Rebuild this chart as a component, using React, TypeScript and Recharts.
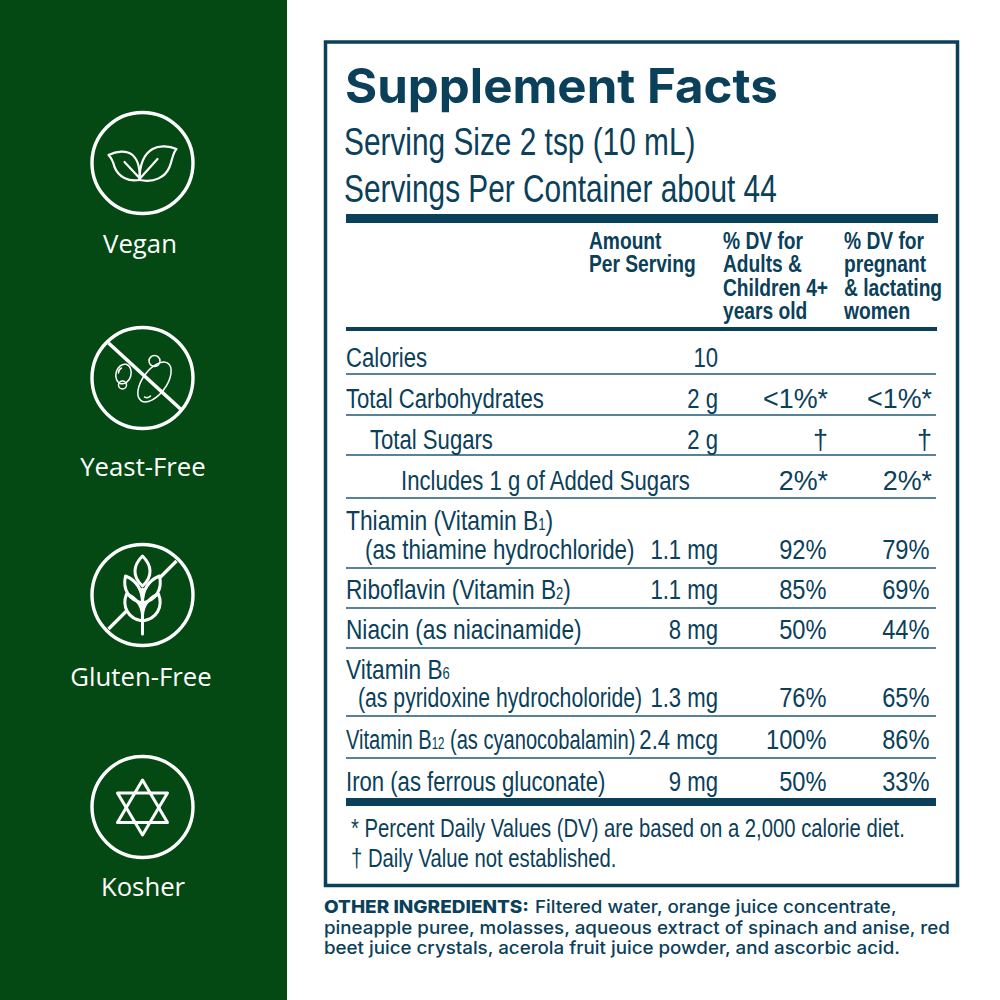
import { ReferenceArea, ReferenceLine, Scatter, ScatterChart, XAxis, YAxis } from "recharts";

const SIDEBAR = "#044813";
const INK = "#0a405a";
const RULE = "#215a74";
const NARROW = "'Liberation Sans', sans-serif";

// left column
const badgeLabels = ["Vegan", "Yeast-Free", "Gluten-Free", "Kosher"];
const badgeKinds = ["leaf", "yeast", "wheat", "star"];
const badgeCentersY = [163, 378, 595, 807];
const badgeLabelX = [140, 143, 141, 143];
const badgeLabelY = [253, 476, 686, 896];

// header
const servingLines = ["Serving Size 2 tsp (10 mL)", "Servings Per Container about 44"];
const servingY = [155, 201.5];
const amountHeader = ["Amount", "Per Serving"];
const adultHeader = ["% DV for", "Adults &", "Children 4+", "years old"];
const pregnantHeader = ["% DV for", "pregnant", "& lactating", "women"];
const headerY = [249, 272, 296, 319];

// table
const nutrientLines = [
    "Calories",
    "Total Carbohydrates",
    "Total Sugars",
    "Includes 1 g of Added Sugars",
    "Thiamin (Vitamin B~1~)",
    "(as thiamine hydrochloride)",
    "Riboflavin (Vitamin B~2~)",
    "Niacin (as niacinamide)",
    "Vitamin B~6~",
    "(as pyridoxine hydrocholoride)",
    "Vitamin B~12~ (as cyanocobalamin)",
    "Iron (as ferrous gluconate)",
];
const nutrientX = [346, 346, 370, 401, 346, 365, 346, 346, 346, 358, 346, 346];
const nutrientY = [367, 408, 449, 490, 530, 559, 599, 639, 679, 707, 749, 791];

const amounts = ["10", "2 g", "2 g", "1.1 mg", "1.1 mg", "8 mg", "1.3 mg", "2.4 mcg", "9 mg"];
const amountY = [367, 408, 449, 559, 599, 639, 707, 749, 791];
const adultDv = ["<1%*", "†", "2%*", "92%", "85%", "50%", "76%", "100%", "50%"];
const pregnantDv = ["<1%*", "†", "2%*", "79%", "69%", "44%", "65%", "86%", "33%"];
const dvY = [408, 449, 490, 559, 599, 639, 707, 749, 791];

const thinRulesY = [374, 415, 455, 498, 568, 608, 648, 716, 758];
const footnotes = ["* Percent Daily Values (DV) are based on a 2,000 calorie diet.", "† Daily Value not established."];
const footnoteY = [837, 867];

const ingredientLines = [
    "Filtered water, orange juice concentrate,",
    "pineapple puree, molasses, aqueous extract of spinach and anise, red",
    "beet juice crystals, acerola fruit juice powder, and ascorbic acid.",
];
const ingredientY = [913, 933.5, 954];

const toPoints = (texts: string[], xs: number[] | number, ys: number[]) =>
    texts.map((text, i) => ({ x: Array.isArray(xs) ? xs[i] : xs, y: ys[i], text }));

// the label font is condensed, nothing installed is, so the glyphs get squeezed
const lineSqueeze = [0.79, 0.79, 0.79, 0.79, 0.815, 0.798, 0.81, 0.81, 0.81, 0.758, 0.718, 0.79];

const textShape =
    ({ squeeze = 1, ...style }: Record<string, any>) =>
    ({ cx, cy, payload }: any) => {
        const parts = String(payload.text).split("~");
        return (
            <text transform={`translate(${cx} ${cy}) scale(${payload.squeeze ?? squeeze} 1)`} {...style}>
                {parts.map((part, i) =>
                    i % 2 === 1 ? (
                        <tspan key={i} fontSize={16}>
                            {part}
                        </tspan>
                    ) : (
                        <tspan key={i}>{part}</tspan>
                    ),
                )}
            </text>
        );
    };

const BadgeIcon = ({ cx, cy, payload }: any) => {
    const kind = payload.kind;
    return (
        <g transform={`translate(${cx} ${cy})`} fill="none" stroke="#fff" strokeLinejoin="round" strokeLinecap="round">
            <circle r={50.5} strokeWidth={3.4} />
            {kind === "leaf" && (
                <g strokeWidth={2.2}>
                    <path d="M-34,-8 C-26,-12 -16,-13 -10,-8 C-4,-3 -2,8 -3,17 C-14,19 -24,14 -28,4 C-29,0 -31,-5 -34,-8 Z" />
                    <path d="M-3,17 C-3,5 0,-8 10,-14 C17,-18 27,-17 34,-14 C30,-10 30,-3 27,4 C23,14 12,20 -3,17 Z" />
                    <path d="M-18,-1 L-4,14 M15,-4 L-3,16" />
                </g>
            )}
            {kind === "yeast" && (
                <g strokeWidth={1.5}>
                    <path d="M-34,-35 L38,31" strokeWidth={3.6} strokeLinecap="butt" />
                    <ellipse cx={12} cy={4} rx={12} ry={23} transform="rotate(36 12 4)" />
                    <circle cx={12} cy={-17} r={5.5} />
                    <ellipse cx={-19} cy={-4} rx={7.5} ry={10} transform="rotate(15 -19 -4)" />
                    <circle cx={-20} cy={7} r={4} />
                    <path d="M-21,-10 C-23,-9 -24,-7 -24,-5 M2,19 C4,20 6,20 8,18" />
                </g>
            )}
            {kind === "wheat" && (
                <g strokeWidth={3}>
                    <path d="M-34,34 L-16,16 M17,-17 L34,-34" strokeWidth={3.2} strokeLinecap="butt" />
                    <path d="M0,-6 L0,39" />
                    <path d="M0,-39 C-9,-30 -11,-19 0,-9 C11,-19 9,-30 0,-39 Z" />
                    <path d="M-17,-19 C-20,-6 -14,5 0,8 C0,-5 -5,-14 -17,-19 Z" />
                    <path d="M17,-19 C20,-6 14,5 0,8 C0,-5 5,-14 17,-19 Z" />
                    <path d="M-16,-1 C-21,12 -14,24 0,26 C1,12 -4,4 -16,-1 Z" />
                    <path d="M16,-1 C21,12 14,24 0,26 C-1,12 4,4 16,-1 Z" />
                </g>
            )}
            {kind === "star" && (
                <g strokeWidth={3}>
                    <path d="M0,-27 L25,15.5 L-25,15.5 Z" />
                    <path d="M0,28 L25,-14 L-25,-14 Z" />
                </g>
            )}
        </g>
    );
};

const bodyStyle = { fontFamily: NARROW, fontSize: 28, fill: INK, squeeze: 0.79 };
const endStyle = { ...bodyStyle, textAnchor: "end" };
const headStyle = { fontFamily: NARROW, fontSize: 24, fontWeight: 700, fill: INK, squeeze: 0.8 };
const ingredientStyle = { fontFamily: "Inter, sans-serif", fontSize: 17.5, fontWeight: 500, fill: INK, squeeze: 1.072 };

const isPlainPercent = (p: { text: string }) => /^\d+%$/.test(p.text);

const textSeries = [
    { data: toPoints(badgeLabels, badgeLabelX, badgeLabelY), style: { fontFamily: "'Open Sans', sans-serif", fontSize: 26, fill: "#fff", textAnchor: "middle", squeeze: 0.99 } },
    { data: [{ x: 345, y: 102.5, text: "Supplement Facts" }], style: { fontFamily: "Inter, sans-serif", fontSize: 48, fontWeight: 700, fill: INK, squeeze: 1.025 } },
    { data: toPoints(servingLines, 344, servingY), style: { fontFamily: NARROW, fontSize: 38, fill: INK, squeeze: 0.785 } },
    { data: toPoints(amountHeader, 589, headerY), style: headStyle },
    { data: toPoints(adultHeader, 723, headerY), style: headStyle },
    { data: toPoints(pregnantHeader, 844, headerY), style: headStyle },
    { data: toPoints(nutrientLines, nutrientX, nutrientY).map((p, i) => ({ ...p, squeeze: lineSqueeze[i] })), style: bodyStyle },
    { data: toPoints(amounts, 718, amountY), style: endStyle },
    { data: toPoints(adultDv, 826.5, dvY).filter(isPlainPercent), style: { ...endStyle, squeeze: 0.845 } },
    { data: toPoints(pregnantDv, 929.5, dvY).filter(isPlainPercent), style: { ...endStyle, squeeze: 0.845 } },
    { data: toPoints(adultDv, 828, dvY).filter((p) => !isPlainPercent(p)), style: { ...endStyle, squeeze: 0.96 } },
    { data: toPoints(pregnantDv, 932, dvY).filter((p) => !isPlainPercent(p)), style: { ...endStyle, squeeze: 0.96 } },
    { data: toPoints(footnotes, 351, footnoteY), style: { ...bodyStyle, fontSize: 26, squeeze: 0.78 } },
    { data: [{ x: 324, y: ingredientY[0], text: "OTHER INGREDIENTS:" }], style: { ...ingredientStyle, fontWeight: 800, squeeze: 1.085 } },
    { data: [{ x: 535, y: ingredientY[0], text: ingredientLines[0] }], style: ingredientStyle },
    { data: toPoints(ingredientLines.slice(1), 324, ingredientY.slice(1)), style: ingredientStyle },
];

const badgePoints = badgeKinds.map((kind, i) => ({ x: 142.5, y: badgeCentersY[i], kind }));

export default function App() {
    return (
        <div style={{ position: "absolute", left: 0, top: 0, width: 1000, height: 1000, background: "#fff" }}>
            <ScatterChart width={1000} height={1000} margin={{ top: 0, right: 0, bottom: 0, left: 0 }}>
                <XAxis type="number" dataKey="x" domain={[0, 1000]} hide />
                <YAxis type="number" dataKey="y" domain={[0, 1000]} reversed hide />
                <ReferenceArea x1={0} x2={287} y1={0} y2={1000} fill={SIDEBAR} fillOpacity={1} stroke="none" />
                <ReferenceArea x1={325.5} x2={957.5} y1={42} y2={885.5} fill="none" stroke={INK} strokeWidth={3.5} />
                <ReferenceArea x1={346} x2={938} y1={214} y2={223} fill={INK} fillOpacity={1} stroke="none" />
                <ReferenceArea x1={346} x2={937} y1={327} y2={331} fill={INK} fillOpacity={1} stroke="none" />
                <ReferenceArea x1={346} x2={936} y1={798} y2={806} fill={INK} fillOpacity={1} stroke="none" />
                {thinRulesY.map((y) => (
                    <ReferenceLine key={y} segment={[{ x: 346, y }, { x: 936, y }]} stroke={RULE} strokeWidth={1.6} />
                ))}
                <Scatter data={badgePoints} shape={BadgeIcon} isAnimationActive={false} />
                {textSeries.map((series, i) => (
                    <Scatter key={i} data={series.data} shape={textShape(series.style)} isAnimationActive={false} />
                ))}
            </ScatterChart>
        </div>
    );
}
